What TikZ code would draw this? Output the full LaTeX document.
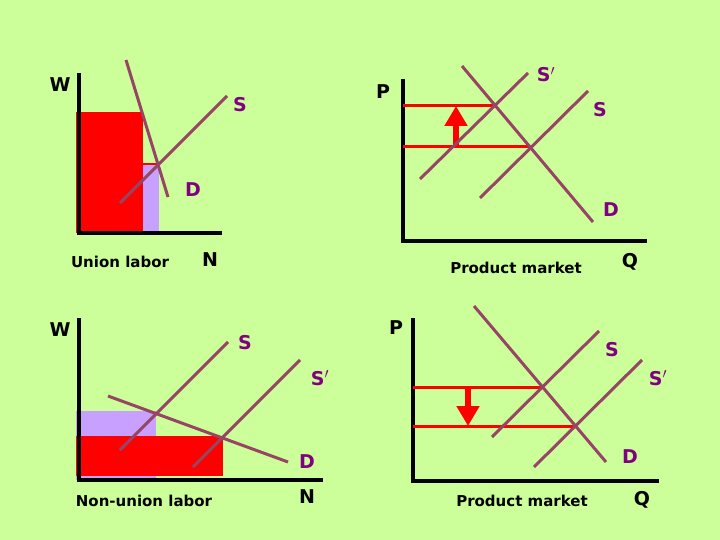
\documentclass[tikz,border=0pt]{standalone}
\usepackage{fontspec}
\setmainfont{DejaVu Sans}
\usetikzlibrary{arrows.meta}
\definecolor{bg}{HTML}{CCFF99}
\definecolor{curve}{RGB}{150,70,100}
\definecolor{lab}{RGB}{128,0,128}
\definecolor{lilac}{RGB}{200,160,255}
\begin{document}
\begin{tikzpicture}[x=1pt,y=-1pt,
  axis/.style={line width=4pt,black},
  crv/.style={line width=3pt,curve},
  lvl/.style={line width=3pt,red},
  lbl/.style={font=\bfseries\fontsize{19}{19}\selectfont,text=lab},
  axl/.style={font=\bfseries\fontsize{19}{19}\selectfont,text=black},
  captxt/.style={font=\bfseries\fontsize{15}{15}\selectfont,text=black}]
\fill[bg] (0,0) rectangle (720,540);
\useasboundingbox (0,0) rectangle (720,540);
% top-left
\fill[lilac] (143,164) rectangle (159,233);
\draw[red,line width=2pt] (143,164) -- (159,164);
\fill[red] (76,112) rectangle (143,233);
\coordinate (o1) at (79,233);
\draw[axis] (79,73) -- (o1) -- (222,233);
\draw[crv] (126,60) -- (168,197);
\draw[crv] (120,203) -- (227,96);
\node[axl] (w1) at (60,85) {W};
\node[lbl] (s1) at (240,105) {S};
\node[lbl] (d1) at (193,190) {D};
\node[captxt] (c1) at (120,262) {Union labor};
\node[axl] (n1) at (210,260) {N};
% bottom-left
\fill[lilac] (76,411) rectangle (156,480);
\fill[red] (76,436) rectangle (223,476);
\coordinate (o2) at (79,480);
\draw[axis] (79,318) -- (o2) -- (323,480);
\draw[crv] (120,450) -- (228,342);
\draw[crv] (193,467) -- (300,360);
\draw[crv] (108,396) -- (288,462);
\node[axl] (w2) at (60,330) {W};
\node[lbl] (s2) at (245,343) {S};
\node[lbl] (s2p) at (320,378) {S$'$};
\node[lbl] (d2) at (307,462) {D};
\node[axl] (n2) at (307,497) {N};
\node[captxt] (c2) at (144,501) {Non-union labor};
% top-right
\coordinate (o3) at (403,241);
\draw[axis] (403,79) -- (o3) -- (647,241);
\draw[lvl] (403,106) -- (494,106);
\draw[lvl] (403,147) -- (530,147);
\draw[red,line width=6pt,-{Triangle[length=20pt,width=22pt]}] (456,148) -- (456,106);
\draw[crv] (462,66) -- (593,222);
\draw[crv] (420,179) -- (528,73);
\draw[crv] (480,198) -- (588,91);
\node[axl] (p3) at (383,92) {P};
\node[lbl] (s3p) at (546,75) {S$'$};
\node[lbl] (s3) at (600,110) {S};
\node[lbl] (d3) at (611,210) {D};
\node[captxt] (c3) at (516,268) {Product market};
\node[axl] (q3) at (630,262) {Q};
% bottom-right
\coordinate (o4) at (413,481);
\draw[axis] (413,318) -- (o4) -- (659,481);
\draw[lvl] (413,387) -- (541,387);
\draw[lvl] (413,426) -- (576,426);
\draw[red,line width=6pt,-{Triangle[length=20pt,width=22pt]}] (468,386) -- (468,426);
\draw[crv] (474,306) -- (606,462);
\draw[crv] (492,437) -- (599,331);
\draw[crv] (534,467) -- (642,360);
\node[axl] (p4) at (396,328) {P};
\node[lbl] (s4) at (612,350) {S};
\node[lbl] (s4p) at (658,378) {S$'$};
\node[lbl] (d4) at (630,457) {D};
\node[captxt] (c4) at (522,501) {Product market};
\node[axl] (q4) at (642,500) {Q};
\end{tikzpicture}
\end{document}
